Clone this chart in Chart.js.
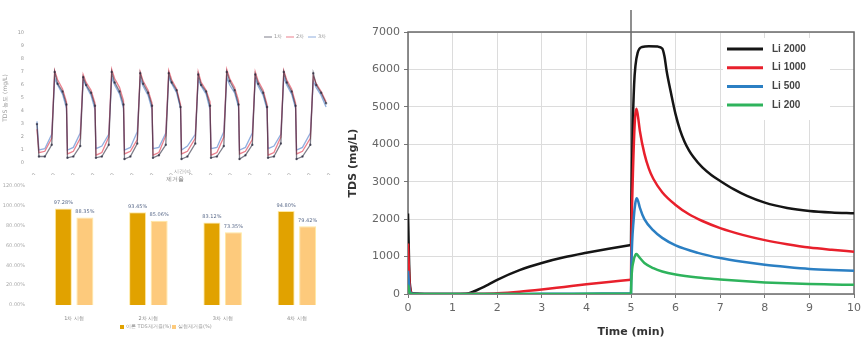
<!DOCTYPE html>
<html>
<head>
<meta charset="utf-8">
<script src="https://cdn.jsdelivr.net/npm/chart.js@4.4.0/dist/chart.umd.min.js"></script>
<style>
  html, body { margin: 0; padding: 0; background: #fff; width: 865px; height: 343px; overflow: hidden; }
  canvas { position: absolute; display: block; }
  #cycleChart { left: 0; top: 0; }
  #removalChart { left: 0; top: 175px; }
  #tdsChart { left: 345px; top: 0; }
</style>
</head>
<body>
<canvas id="cycleChart" width="345" height="175"></canvas>
<canvas id="removalChart" width="345" height="168"></canvas>
<canvas id="tdsChart" width="520" height="343"></canvas>
<script>
// ===== DATA: main TDS chart (time in min, TDS in mg/L) =====
const li2000T = [0, 0.04, 0.1, 0.5, 1.0, 1.3, 1.5, 1.8, 2.0, 2.5, 3.0, 3.5, 4.0, 4.5, 5.0, 5.01, 5.04, 5.07, 5.1, 5.15, 5.25, 5.4, 5.6, 5.7, 5.75, 5.8, 5.9, 6.0, 6.1, 6.2, 6.3, 6.4, 6.6, 6.8, 7.0, 7.3, 7.6, 8.0, 8.5, 9.0, 9.5, 10];
const li2000V = [2150, 300, 20, 0, 0, 5, 80, 250, 380, 640, 830, 980, 1100, 1210, 1310, 2500, 4500, 5600, 6100, 6450, 6600, 6620, 6610, 6560, 6350, 5950, 5350, 4800, 4380, 4070, 3840, 3660, 3380, 3180, 3020, 2800, 2620, 2440, 2300, 2220, 2180, 2160];
const li1000T = [0, 0.04, 0.1, 0.5, 1.0, 1.5, 2.0, 2.5, 3.0, 3.5, 4.0, 4.5, 5.0, 5.01, 5.05, 5.09, 5.12, 5.15, 5.2, 5.3, 5.4, 5.5, 5.7, 6.0, 6.3, 6.6, 7.0, 7.5, 8.0, 8.5, 9.0, 9.5, 10];
const li1000V = [1350, 200, 10, 0, 0, 5, 20, 60, 120, 190, 260, 320, 380, 1500, 3500, 4700, 4950, 4800, 4350, 3750, 3350, 3080, 2720, 2380, 2130, 1950, 1760, 1580, 1440, 1330, 1240, 1180, 1130];
const li500T = [0, 0.04, 0.1, 0.5, 1, 2, 3, 4, 5.0, 5.01, 5.06, 5.1, 5.13, 5.16, 5.2, 5.3, 5.5, 5.7, 6.0, 6.5, 7.0, 7.5, 8.0, 8.5, 9.0, 9.5, 10];
const li500V = [620, 80, 5, 0, 0, 0, 5, 10, 15, 800, 2000, 2450, 2560, 2480, 2300, 2000, 1700, 1500, 1300, 1100, 960, 860, 780, 720, 670, 640, 620];
const li200T = [0, 0.04, 0.1, 0.5, 1, 2, 3, 4, 5.0, 5.01, 5.06, 5.1, 5.12, 5.15, 5.2, 5.3, 5.5, 5.7, 6.0, 6.5, 7.0, 7.5, 8.0, 8.5, 9.0, 9.5, 10];
const li200V = [250, 30, 0, 0, 0, 0, 0, 5, 10, 400, 900, 1050, 1070, 1040, 960, 830, 690, 600, 520, 440, 390, 345, 310, 285, 265, 255, 245];
const tdsNames = ['Li 2000', 'Li 1000', 'Li 500', 'Li 200'];
const tdsColors = ['#151515', '#e8202c', '#2b7fc3', '#2eb35c'];
const switchTime = 5;

// ===== DATA: small cycle chart (top left) =====
const cycleT = [2, 4, 10, 17,
  20, 23, 28, 32, 33, 39, 46,
  49, 52, 57, 61, 62, 68, 75,
  78, 81, 86, 90, 91, 97, 104,
  107, 110, 115, 119, 120, 126, 133,
  136, 139, 144, 148, 149, 155, 163,
  166, 169, 174, 178, 179, 185, 192,
  195, 198, 203, 207, 208, 214, 221,
  224, 227, 232, 236, 237, 243, 250,
  253, 256, 261, 265, 266, 272, 280,
  283, 286, 291, 296];
const cycle1V = [3.0, 0.5, 0.5, 1.4,
  7.0, 6.1, 5.5, 4.5, 0.4, 0.5, 1.3,
  6.6, 6.0, 5.4, 4.4, 0.4, 0.5, 1.4,
  7.0, 6.2, 5.5, 4.5, 0.3, 0.5, 1.5,
  6.9, 6.1, 5.4, 4.4, 0.4, 0.6, 1.4,
  6.9, 6.2, 5.6, 4.3, 0.3, 0.5, 1.5,
  6.8, 6.0, 5.5, 4.4, 0.4, 0.5, 1.3,
  7.0, 6.3, 5.6, 4.5, 0.3, 0.6, 1.4,
  6.8, 6.1, 5.4, 4.3, 0.4, 0.5, 1.5,
  7.0, 6.2, 5.5, 4.4, 0.3, 0.5, 1.4,
  6.9, 6.0, 5.4, 4.6];
const cycle2V = [2.6, 0.8, 0.9, 1.9,
  7.1, 6.4, 5.7, 4.7, 0.7, 0.9, 1.9,
  6.8, 6.2, 5.6, 4.6, 0.6, 0.8, 2.0,
  7.2, 6.5, 5.8, 4.8, 0.7, 0.9, 1.8,
  7.0, 6.3, 5.6, 4.6, 0.6, 0.8, 2.1,
  7.1, 6.4, 5.7, 4.5, 0.7, 0.9, 1.9,
  7.0, 6.2, 5.6, 4.7, 0.6, 0.8, 2.0,
  7.2, 6.5, 5.8, 4.8, 0.7, 0.9, 1.8,
  7.0, 6.3, 5.6, 4.5, 0.6, 0.8, 2.0,
  7.1, 6.4, 5.7, 4.6, 0.7, 0.9, 1.9,
  6.7, 6.1, 5.5, 4.7];
const cycle3V = [3.2, 1.0, 1.1, 2.2,
  6.5, 6.0, 5.3, 4.2, 1.0, 1.2, 2.3,
  6.4, 5.9, 5.2, 4.1, 1.1, 1.3, 2.2,
  6.6, 6.0, 5.3, 4.2, 1.0, 1.2, 2.4,
  6.5, 5.9, 5.2, 4.1, 1.1, 1.2, 2.3,
  6.6, 6.1, 5.4, 4.2, 1.0, 1.3, 2.2,
  6.4, 5.9, 5.3, 4.1, 1.1, 1.2, 2.4,
  6.6, 6.0, 5.4, 4.3, 1.0, 1.2, 2.3,
  6.5, 5.9, 5.2, 4.1, 1.1, 1.3, 2.2,
  6.6, 6.0, 5.3, 4.2, 1.0, 1.2, 2.3,
  6.3, 5.8, 5.2, 4.3];
const cycleNames = ['1차', '2차', '3차'];
const cycleColors = ['rgba(40,40,60,0.6)', 'rgba(225,60,80,0.65)', 'rgba(70,120,200,0.6)'];

// ===== DATA: removal bar chart (bottom left) =====
const removalCats = ['1차 시험', '2차 시험', '3차 시험', '4차 시험'];
const removalA = [97.28, 93.45, 83.12, 94.80];
const removalB = [88.35, 85.06, 73.35, 79.42];
const removalNames = ['이론 TDS제거율(%)', '실험제거율(%)'];
const removalColors = ['#e1a200', '#fdca7c'];

Chart.defaults.font.family = 'DejaVu Sans';

// ===== HELPERS =====
function to_points(ts, vs) {
    return ts.map((t, i) => ({ x: t, y: vs[i] }));
}

// ===== TOP LEFT: cycle chart =====
new Chart(document.getElementById('cycleChart'), {
    type: 'line',
    data: {
        datasets: [cycle1V, cycle2V, cycle3V].map((vs, i) => ({
            label: cycleNames[i],
            data: to_points(cycleT, vs),
            borderColor: cycleColors[i],
            backgroundColor: cycleColors[i],
            borderWidth: 1.3,
            pointRadius: i === 0 ? 0.6 : 0,
            tension: 0
        }))
    },
    options: {
        responsive: false,
        animation: false,
        layout: { padding: { left: 0, right: 15, top: 33, bottom: 0 } },
        scales: {
            x: {
                type: 'linear', min: 0, max: 300,
                ticks: { stepSize: 10, color: '#999', font: { size: 5 }, padding: 1 },
                grid: { display: false }, border: { display: false },
                title: { display: true, text: '시간(s)', color: '#999', font: { size: 5 }, padding: 0 },
                afterFit: (s) => { s.height = 12; }
            },
            y: {
                min: 0, max: 10,
                ticks: { stepSize: 1, color: '#999', font: { size: 5 }, padding: 3 },
                grid: { display: false }, border: { display: false },
                title: { display: true, text: 'TDS 농도 (mg/L)', color: '#999', font: { size: 6 }, padding: 2 },
                afterFit: (s) => { s.width = 35; }
            }
        },
        plugins: { legend: { display: false }, tooltip: { enabled: false } }
    },
    plugins: [{
        id: 'cycleLegend',
        afterDraw(chart) {
            const ctx = chart.ctx;
            ctx.save();
            ctx.font = '5px "DejaVu Sans"';
            ctx.textBaseline = 'middle';
            let x = 264;
            cycleNames.forEach((name, i) => {
                ctx.strokeStyle = cycleColors[i];
                ctx.lineWidth = 1;
                ctx.beginPath();
                ctx.moveTo(x, 37);
                ctx.lineTo(x + 8, 37);
                ctx.stroke();
                ctx.fillStyle = '#999';
                ctx.fillText(name, x + 10, 37);
                x += 22;
            });
            ctx.restore();
        }
    }]
});

// ===== BOTTOM LEFT: removal bar chart =====
new Chart(document.getElementById('removalChart'), {
    type: 'bar',
    data: {
        labels: removalCats,
        datasets: [removalA, removalB].map((vs, i) => ({
            label: removalNames[i],
            data: vs,
            backgroundColor: removalColors[i],
            borderColor: '#ffe9a0',
            borderWidth: 1,
            categoryPercentage: 0.58,
            barPercentage: 0.79
        }))
    },
    options: {
        responsive: false,
        animation: false,
        layout: { padding: { left: 0, right: 11, top: 11, bottom: 0 } },
        scales: {
            x: {
                ticks: { color: '#888', font: { size: 5 }, padding: 3 },
                grid: { display: false }, border: { display: false },
                afterFit: (s) => { s.height = 38; }
            },
            y: {
                min: 0, max: 120,
                ticks: { stepSize: 20, color: '#aaa', font: { size: 5 }, padding: 4,
                         callback: (v) => v.toFixed(2) + '%' },
                grid: { display: false }, border: { display: false },
                afterFit: (s) => { s.width = 37; }
            }
        },
        plugins: { legend: { display: false }, tooltip: { enabled: false } }
    },
    plugins: [{
        id: 'removalExtras',
        afterDraw(chart) {
            const ctx = chart.ctx;
            ctx.save();
            // value labels over bars
            ctx.font = '5px "DejaVu Sans"';
            ctx.fillStyle = '#5a6a8a';
            ctx.textAlign = 'center';
            ctx.textBaseline = 'bottom';
            chart.data.datasets.forEach((ds, di) => {
                chart.getDatasetMeta(di).data.forEach((bar, i) => {
                    ctx.fillText(ds.data[i].toFixed(2) + '%', bar.x, bar.y - 3);
                });
            });
            // title
            ctx.fillStyle = '#888';
            ctx.font = '6px "DejaVu Sans"';
            ctx.textBaseline = 'middle';
            ctx.fillText('제거율', 175, 4);
            // legend
            ctx.font = '5px "DejaVu Sans"';
            ctx.textAlign = 'left';
            let x = 120;
            removalNames.forEach((name, i) => {
                ctx.fillStyle = removalColors[i];
                ctx.fillRect(x, 150, 4, 4);
                ctx.fillStyle = '#999';
                ctx.fillText(name, x + 6, 152);
                x += 52;
            });
            ctx.restore();
        }
    }]
});

// ===== RIGHT: TDS chart =====
// each series is drawn as two pieces (before / after the switch at 5 min)
// so the monotone spline keeps the vertical jump sharp
const tdsSeries = [[li2000T, li2000V], [li1000T, li1000V], [li500T, li500V], [li200T, li200V]];
const tdsDatasets = [];
tdsSeries.forEach((s, i) => {
    const pts = to_points(s[0], s[1]);
    [pts.filter(p => p.x <= switchTime), pts.filter(p => p.x >= switchTime)].forEach(part => {
        tdsDatasets.push({
            label: tdsNames[i],
            data: part,
            borderColor: tdsColors[i],
            backgroundColor: tdsColors[i],
            borderWidth: 2.5,
            pointRadius: 0,
            cubicInterpolationMode: 'monotone',
            order: 3 - i
        });
    });
});

new Chart(document.getElementById('tdsChart'), {
    type: 'line',
    data: { datasets: tdsDatasets },
    options: {
        responsive: false,
        animation: false,
        layout: { padding: { left: 0, right: 8, top: 32, bottom: 0 } },
        scales: {
            x: {
                type: 'linear', min: 0, max: 10,
                ticks: { stepSize: 1, color: '#666', font: { size: 11 }, padding: 4 },
                grid: { color: '#dcdcdc', tickColor: '#777', tickLength: 4 },
                border: { display: false },
                title: { display: true, text: 'Time (min)', color: '#333',
                         font: { size: 11, weight: 'bold' }, padding: { top: 2, bottom: 4 } },
                afterFit: (s) => { s.height = 49; }
            },
            y: {
                min: 0, max: 7000,
                ticks: { stepSize: 1000, color: '#666', font: { size: 11 }, padding: 4,
                         callback: (v) => String(v) },
                grid: { color: '#dcdcdc', tickColor: '#777', tickLength: 4 },
                border: { display: false },
                title: { display: true, text: 'TDS (mg/L)', color: '#333',
                         font: { size: 11, weight: 'bold' }, padding: { top: 2, bottom: 2 } },
                afterFit: (s) => { s.width = 63; }
            }
        },
        plugins: { legend: { display: false }, tooltip: { enabled: false } }
    },
    plugins: [{
        id: 'tdsFrame',
        beforeDatasetsDraw(chart) {
            const ctx = chart.ctx;
            const a = chart.chartArea;
            ctx.save();
            // legend background hides grid
            ctx.fillStyle = '#fff';
            ctx.fillRect(378, 38, 107, 82);
            // plot frame
            ctx.strokeStyle = '#6a6a6a';
            ctx.lineWidth = 1.5;
            ctx.strokeRect(a.left, a.top, a.right - a.left, a.bottom - a.top);
            // switch marker at 5 min
            const x5 = chart.scales.x.getPixelForValue(switchTime);
            ctx.beginPath();
            ctx.moveTo(x5, 10);
            ctx.lineTo(x5, a.bottom);
            ctx.stroke();
            // legend items
            ctx.font = 'bold 10px "Liberation Sans"';
            ctx.textBaseline = 'middle';
            tdsNames.forEach((name, i) => {
                const y = 49 + i * 18.7;
                ctx.strokeStyle = tdsColors[i];
                ctx.lineWidth = 3;
                ctx.beginPath();
                ctx.moveTo(382, y);
                ctx.lineTo(418, y);
                ctx.stroke();
                ctx.fillStyle = '#444';
                ctx.fillText(name, 427, y);
            });
            ctx.restore();
        }
    }]
});
</script>
</body>
</html>
